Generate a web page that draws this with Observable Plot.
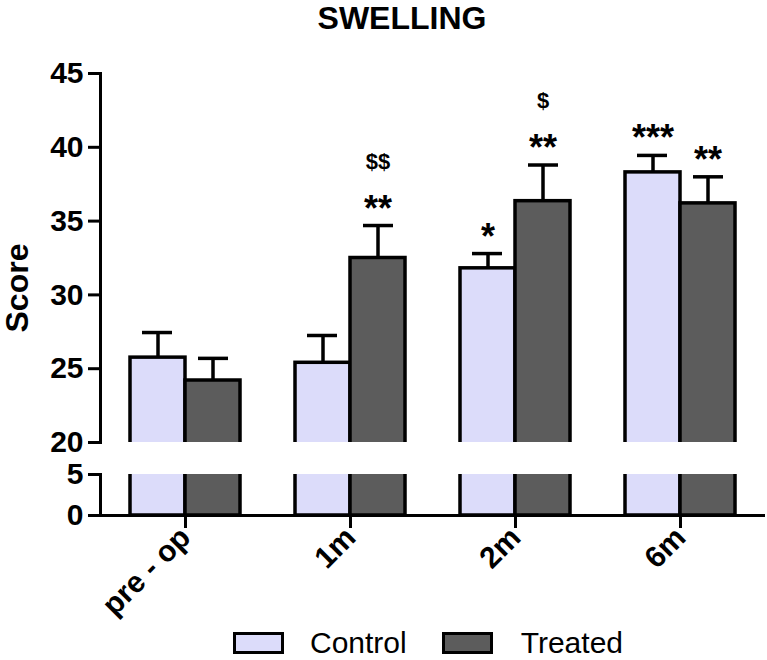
<!DOCTYPE html>
<html><head><meta charset="utf-8">
<script src="https://cdn.jsdelivr.net/npm/d3@7"></script>
<script src="https://cdn.jsdelivr.net/npm/@observablehq/plot@0.6"></script>
<style>
body{margin:0;background:#fff;}
#chart{position:relative;width:767px;height:660px;font-family:"Liberation Sans",Arial,sans-serif;overflow:hidden;background:#fff}
#chart svg{position:absolute;left:0}
#title{position:absolute;top:3px;left:0;width:804px;text-align:center;font-size:32px;line-height:30px;font-weight:bold;color:#000}
#ylab{position:absolute;left:17px;top:288px;transform:translate(-50%,-50%) rotate(-90deg);font-size:32px;font-weight:bold;white-space:nowrap;line-height:28px}
#legend{position:absolute;left:233px;top:631px;height:24px;display:flex;align-items:center;font-size:30px;line-height:24px;color:#000}
.sw{width:51px;height:22px;border:3.5px solid #000;box-sizing:border-box}
</style></head><body><div id="chart"><div id="title">SWELLING</div><div id="ylab">Score</div>
<div id="legend"><div class="sw" style="background:#dcdcfa"></div><span style="margin-left:26px">Control</span><div class="sw" style="background:#5c5c5c;margin-left:35px"></div><span style="margin-left:28px">Treated</span></div>
</div>
<script>
const groups = ["pre - op", "1m", "2m", "6m"];
const controlMean = [25.75, 25.4, 31.8, 38.3];
const controlErr = [1.7, 1.85, 1.0, 1.15];
const treatedMean = [24.2, 32.5, 36.35, 36.2];
const treatedErr = [1.5, 2.2, 2.45, 1.8];
const starsControl = ["", "", "*", "***"];
const starsTreated = ["", "**", "**", "**"];
const dollarsTreated = ["", "$$", "$", ""];
const yTicksTop = [20, 25, 30, 35, 40, 45];
const yTicksBottom = [0, 5];

const colorControl = "#dcdcfa";
const colorTreated = "#5c5c5c";

const rows = groups.map((g, i) => ({
  group: g,
  control: controlMean[i], controlTop: controlMean[i] + controlErr[i],
  treated: treatedMean[i], treatedTop: treatedMean[i] + treatedErr[i],
  sc: starsControl[i], st: starsTreated[i], dt: dollarsTreated[i]
}));

const font = "'Liberation Sans', Arial, sans-serif";
const xScale = {domain: groups, paddingInner: 0.334, paddingOuter: 0.179};

function barMarks() {
  return [
    Plot.barY(rows, {x: "group", y1: 0, y2: "control", fill: colorControl, stroke: "black", strokeWidth: 3.5, insetRight: 55, clip: true}),
    Plot.barY(rows, {x: "group", y1: 0, y2: "treated", fill: colorTreated, stroke: "black", strokeWidth: 3.5, insetLeft: 55, clip: true})
  ];
}

const upperPlot = Plot.plot({
  width: 767, height: 450,
  marginTop: 73, marginBottom: 8, marginLeft: 100, marginRight: 2,
  style: {fontFamily: font, fontSize: "30px", fontWeight: "bold", background: "transparent", overflow: "visible", color: "black"},
  x: {...xScale, axis: null},
  y: {domain: [20, 45], axis: null},
  marks: [
    ...barMarks(),
    Plot.ruleX(rows, {x: "group", y1: "control", y2: "controlTop", dx: -27.5, strokeWidth: 3.5}),
    Plot.ruleX(rows, {x: "group", y1: "treated", y2: "treatedTop", dx: 27.5, strokeWidth: 3.5}),
    Plot.tickY(rows, {x: "group", y: "controlTop", insetLeft: 12, insetRight: 68, strokeWidth: 3.5}),
    Plot.tickY(rows, {x: "group", y: "treatedTop", insetLeft: 68, insetRight: 12, strokeWidth: 3.5}),
    Plot.text(rows, {x: "group", y: "controlTop", text: "sc", dx: -27.5, dy: -5, lineAnchor: "bottom", fontSize: 36, fontWeight: "bold"}),
    Plot.text(rows, {x: "group", y: "treatedTop", text: "st", dx: 27.5, dy: -5, lineAnchor: "bottom", fontSize: 36, fontWeight: "bold"}),
    Plot.text(rows, {x: "group", y: "treatedTop", text: "dt", dx: 27.5, dy: -57, lineAnchor: "bottom", fontSize: 22, fontWeight: "bold"}),
    Plot.axisY({ticks: yTicksTop, tickFormat: "d", tickSize: 12, tickPadding: 5, strokeWidth: 3, label: null, fontSize: 30, fontWeight: "bold"}),
    Plot.frame({anchor: "left", strokeWidth: 3})
  ]
});
upperPlot.style.top = "0px";

const lowerPlot = Plot.plot({
  width: 767, height: 200,
  marginTop: 24, marginBottom: 135, marginLeft: 100, marginRight: 2,
  style: {fontFamily: font, fontSize: "30px", fontWeight: "bold", background: "transparent", overflow: "visible", color: "black"},
  x: {...xScale},
  y: {domain: [0, 5], axis: null},
  marks: [
    ...barMarks(),
    Plot.axisY({ticks: yTicksBottom, tickFormat: "d", tickSize: 12, tickPadding: 5, strokeWidth: 3, label: null, fontSize: 30, fontWeight: "bold"}),
    Plot.axisX({tickSize: 13, tickRotate: -45, tickPadding: 4, strokeWidth: 3, label: null, fontSize: 30, fontWeight: "bold"}),
    Plot.ruleY([0], {strokeWidth: 3}),
    Plot.frame({anchor: "left", strokeWidth: 3})
  ]
});
lowerPlot.style.top = "450px";

const chart = document.getElementById("chart");
chart.appendChild(upperPlot);
chart.appendChild(lowerPlot);
</script>
</body></html>
